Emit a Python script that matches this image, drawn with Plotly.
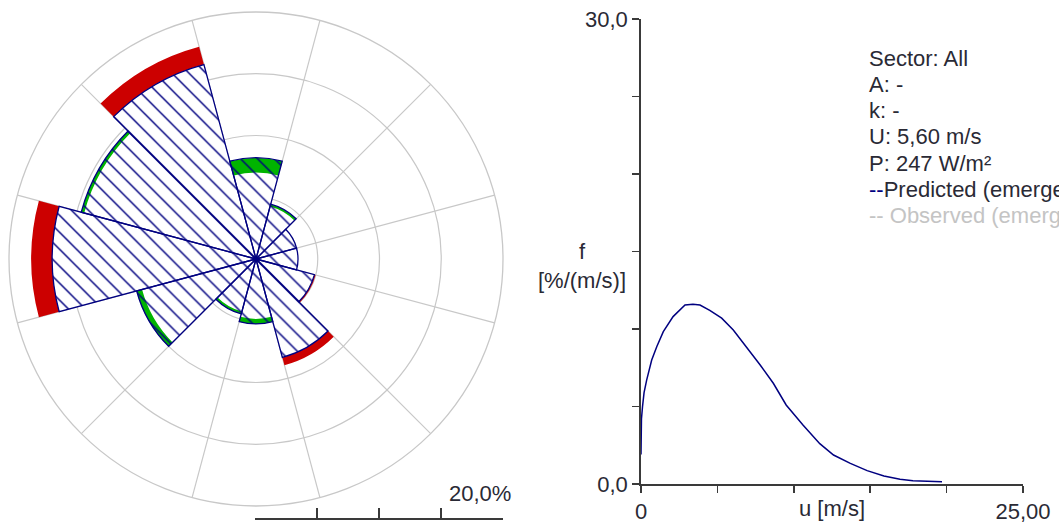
import plotly.graph_objects as go

# ---- data ----
directions = [0, 30, 60, 90, 120, 150, 180, 210, 240, 270, 300, 330]
predicted = [8.2, 4.6, 3.4, 3.4, 4.9, 8.25, 5.25, 4.6, 10.0, 16.5, 14.65, 16.3]
observed = [7.0, 4.4, 3.4, 3.4, 5.0, 8.9, 4.85, 4.4, 9.55, 18.2, 14.4, 17.8]
ring_ticks = [5, 10, 15]
scale_ticks = [0, 5, 10, 15, 20]

u_vals = [0.0, 0.03, 0.1, 0.2, 0.37, 0.7, 1.03, 1.46, 2.1, 2.6, 2.88, 3.4, 3.86, 4.5,
          5.28, 6.04, 6.9, 7.8, 8.66, 9.5, 10.6, 11.7, 12.6, 13.7, 14.8, 15.9,
          16.95, 17.8, 19.7]
f_vals = [1.9, 4.2, 5.0, 5.9, 6.7, 8.0, 8.86, 9.83, 10.8, 11.3, 11.55, 11.6, 11.55, 11.2,
          10.7, 9.93, 8.86, 7.68, 6.5, 5.1, 3.8, 2.6, 1.87, 1.33, 0.86, 0.52,
          0.30, 0.21, 0.15]
x_tickvals = [0, 5, 10, 15, 20, 25]
x_ticktext = ["0", "", "", "", "", "25,00"]
y_tickvals = [0, 5, 10, 15, 20, 25, 30]
y_ticktext = ["0,0", "", "", "", "", "", "30,0"]

info_lines = ["Sector: All", "A: -", "k: -", "U: 5,60 m/s", "P: 247 W/m²"]

NAVY = "#000080"
RED = "#cc0000"
GREEN = "#00b400"
GRID = "#c8c8c8"
AXIS = "#3a3a3a"
TXT = "#2a2a35"
FONT = "Liberation Sans, Arial, sans-serif"
W, H = 1059, 523

def px(x):
    return x / W

def py(y):
    return 1 - y / H

red_base = [p for p in predicted]
red_r = [max(o - p, 0) for o, p in zip(observed, predicted)]
green_base = [o for o in observed]
green_r = [max(p - o, 0) for o, p in zip(observed, predicted)]

fig = go.Figure()

fig.add_trace(go.Barpolar(theta=directions, r=predicted, width=[30] * 12,
                          marker=dict(color="white", line=dict(width=0)),
                          hoverinfo="skip", showlegend=False))
fig.add_trace(go.Barpolar(theta=directions, r=green_r, base=green_base, width=[30] * 12,
                          marker=dict(color=GREEN, line=dict(width=0)),
                          hoverinfo="skip", showlegend=False))
fig.add_trace(go.Barpolar(theta=directions, r=red_r, base=red_base, width=[30] * 12,
                          marker=dict(color=RED, line=dict(width=0)),
                          hoverinfo="skip", showlegend=False))
fig.add_trace(go.Barpolar(theta=directions, r=predicted, width=[30] * 12,
                          marker=dict(color="rgba(0,0,0,0)",
                                      line=dict(color=NAVY, width=1.3),
                                      pattern=dict(shape="\\", fgcolor=NAVY,
                                                   bgcolor="rgba(0,0,0,0)",
                                                   size=12, solidity=0.12,
                                                   fillmode="replace")),
                          hoverinfo="skip", showlegend=False))

fig.add_trace(go.Scatter(x=u_vals, y=f_vals, mode="lines",
                         line=dict(color=NAVY, width=1.5),
                         hoverinfo="skip", showlegend=False,
                         xaxis="x", yaxis="y"))

fig.add_trace(go.Scatter(x=[None], y=[None], xaxis="x3", yaxis="y3",
                         showlegend=False, hoverinfo="skip"))

fig.update_layout(
    template="none",
    width=W, height=H, autosize=False,
    margin=dict(l=0, r=0, t=0, b=0, pad=0, autoexpand=False),
    paper_bgcolor="white", plot_bgcolor="white",
    font=dict(family=FONT, size=22, color=TXT),
    polar=dict(
        domain=dict(x=[px(9), px(503)], y=[py(506), py(12)]),
        bgcolor="white",
        barmode="overlay",
        bargap=0,
        angularaxis=dict(direction="clockwise", rotation=90,
                         tickmode="array", tickvals=[15 + 30 * i for i in range(12)],
                         showticklabels=False, ticks="",
                         showline=True, linecolor=GRID, linewidth=1.3,
                         gridcolor=GRID, gridwidth=1.2),
        radialaxis=dict(range=[0, 20], tickmode="array", tickvals=ring_ticks,
                        showticklabels=False, ticks="", showline=False,
                        gridcolor=GRID, gridwidth=1.2),
    ),
    xaxis=dict(domain=[px(641), px(1023)], range=[0, 25], anchor="y",
               automargin=False,
               tickmode="array", tickvals=x_tickvals, ticktext=x_ticktext,
               ticks="outside", ticklen=7, tickwidth=1.5, tickcolor=AXIS,
               showline=True, linecolor=AXIS, linewidth=1.8,
               showgrid=False, zeroline=False,
               tickfont=dict(size=22, color=TXT)),
    yaxis=dict(domain=[py(484), py(19)], range=[0, 30], anchor="x",
               automargin=False,
               tickmode="array", tickvals=y_tickvals, ticktext=y_ticktext,
               ticks="outside", ticklen=7, tickwidth=1.5, tickcolor=AXIS,
               showline=True, linecolor=AXIS, linewidth=1.8,
               showgrid=False, zeroline=False,
               tickfont=dict(size=22, color=TXT)),
    xaxis3=dict(domain=[px(255), px(503)], range=[0, 20], anchor="y3",
                automargin=False,
                tickmode="array", tickvals=scale_ticks, showticklabels=False,
                ticks="inside", ticklen=10, tickwidth=1.5, tickcolor=AXIS,
                showline=True, linecolor=AXIS, linewidth=1.8,
                showgrid=False, zeroline=False),
    yaxis3=dict(domain=[py(518), py(505)], anchor="x3", visible=False,
                automargin=False, range=[0, 1]),
)

annotations = []
annotations.append(dict(x=px(513), y=py(493), xref="paper", yref="paper",
                        text="20,0%", showarrow=False, xanchor="right",
                        yanchor="middle", font=dict(size=22, color=TXT)))
annotations.append(dict(x=px(832), y=py(508), xref="paper", yref="paper",
                        text="u [m/s]", showarrow=False, xanchor="center",
                        yanchor="middle", font=dict(size=22, color=TXT)))
annotations.append(dict(x=px(582), y=py(252), xref="paper", yref="paper",
                        text="f", showarrow=False, xanchor="center",
                        yanchor="middle", font=dict(size=22, color=TXT)))
annotations.append(dict(x=px(582), y=py(280), xref="paper", yref="paper",
                        text="[%/(m/s)]", showarrow=False, xanchor="center",
                        yanchor="middle", font=dict(size=22, color=TXT)))
for i, line in enumerate(info_lines):
    annotations.append(dict(x=px(867), y=py(58 + 26.3 * i), xref="paper", yref="paper",
                            text=line, showarrow=False, xanchor="left",
                            yanchor="middle", font=dict(size=22, color=TXT)))
annotations.append(dict(x=px(867), y=py(58 + 26.3 * 5), xref="paper", yref="paper",
                        text=f"<span style='color:{NAVY}'>--</span>Predicted (emergent)",
                        showarrow=False, xanchor="left", yanchor="middle",
                        font=dict(size=22, color=TXT)))
annotations.append(dict(x=px(867), y=py(58 + 26.3 * 6), xref="paper", yref="paper",
                        text="-- Observed (emergent)",
                        showarrow=False, xanchor="left", yanchor="middle",
                        font=dict(size=22, color="#c4c4c4")))
fig.update_layout(annotations=annotations)

fig.write_html("out.html",
               config={"displayModeBar": False, "staticPlot": True},
               post_script="document.body.style.margin='0px';"
                           "document.body.style.padding='0px';"
                           "document.body.style.overflow='hidden';")
